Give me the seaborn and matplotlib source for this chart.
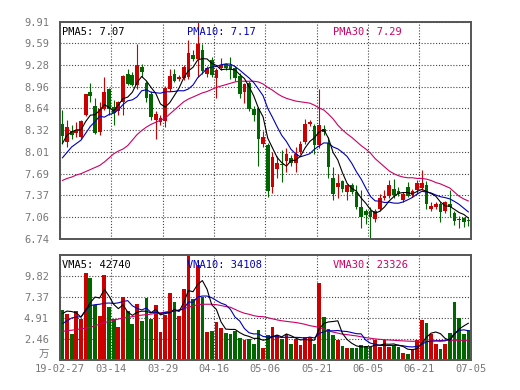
import numpy as np
import pandas as pd
import seaborn as sns
import matplotlib
matplotlib.use('Agg')
import matplotlib.pyplot as plt

# Daily K-line data, 88 trading days (volume in 万)
opens = [8.42, 8.15, 8.32, 8.29, 8.23, 8.55, 8.88, 8.68, 8.30, 8.64,
         8.92, 8.67, 8.60, 8.73, 9.14, 9.13, 8.98, 9.25, 9.01, 8.86,
         8.48, 8.45, 8.46, 8.93, 9.14, 9.07, 9.08, 9.10, 9.42, 9.37,
         9.50, 9.14, 9.35, 9.08, 9.24, 9.29, 9.28, 9.23, 9.12, 8.88,
         9.01, 8.64, 8.64, 8.12, 8.11, 7.49, 7.76, 7.83, 7.87, 7.92,
         7.84, 8.01, 8.15, 8.41, 8.39, 8.11, 8.34, 8.14, 7.63, 7.50,
         7.58, 7.42, 7.52, 7.42, 7.20, 7.14, 7.15, 7.03, 7.18, 7.33,
         7.36, 7.47, 7.44, 7.31, 7.50, 7.38, 7.45, 7.48, 7.52, 7.18,
         7.21, 7.25, 7.15, 7.24, 7.12, 7.03, 7.04, 7.02]
highs = [8.62, 8.47, 8.40, 8.44, 8.48, 8.86, 9.01, 8.79, 8.73, 9.10,
         8.94, 8.76, 8.75, 9.13, 9.22, 9.17, 9.59, 9.29, 9.05, 8.90,
         8.60, 8.54, 8.97, 9.22, 9.22, 9.13, 9.28, 9.64, 9.50, 9.91,
         9.58, 9.26, 9.40, 9.24, 9.38, 9.31, 9.40, 9.26, 9.16, 9.02,
         9.04, 8.68, 8.66, 8.32, 8.14, 8.00, 7.95, 8.04, 8.06, 7.96,
         8.08, 8.17, 8.49, 8.47, 8.42, 8.93, 8.40, 8.22, 7.79, 7.69,
         7.60, 7.54, 7.56, 7.52, 7.45, 7.18, 7.20, 7.17, 7.40, 7.45,
         7.60, 7.61, 7.50, 7.42, 7.57, 7.47, 7.59, 7.75, 7.58, 7.28,
         7.27, 7.28, 7.29, 7.45, 7.15, 7.07, 7.06, 7.04]
lows = [8.13, 8.08, 8.20, 8.22, 8.20, 8.53, 8.74, 8.27, 8.26, 8.62,
        8.55, 8.40, 8.54, 8.55, 8.98, 8.97, 8.93, 9.10, 8.74, 8.48,
        8.19, 8.40, 8.37, 8.90, 9.03, 9.04, 9.06, 9.07, 9.33, 9.10,
        9.15, 9.10, 9.10, 8.79, 9.20, 9.20, 9.07, 9.05, 8.80, 8.72,
        8.60, 8.46, 7.80, 8.08, 7.35, 7.41, 7.62, 7.57, 7.72, 7.80,
        7.71, 7.98, 8.12, 8.38, 7.97, 8.06, 8.25, 7.62, 7.30, 7.33,
        7.42, 7.30, 7.40, 7.18, 6.89, 6.95, 6.74, 6.99, 7.15, 7.30,
        7.34, 7.34, 7.36, 7.28, 7.35, 7.35, 7.40, 7.45, 7.18, 7.15,
        7.18, 6.98, 7.12, 7.06, 6.94, 6.90, 6.91, 6.93]
closes = [8.24, 8.37, 8.25, 8.33, 8.46, 8.85, 8.83, 8.29, 8.64, 8.89,
          8.63, 8.57, 8.73, 9.11, 9.00, 8.99, 9.27, 9.18, 8.79, 8.52,
          8.56, 8.50, 8.94, 9.11, 9.05, 9.10, 9.25, 9.45, 9.37, 9.59,
          9.19, 9.23, 9.13, 9.21, 9.28, 9.23, 9.22, 9.09, 8.86, 9.00,
          8.63, 8.55, 8.20, 8.22, 7.44, 7.93, 7.85, 7.81, 7.97, 7.84,
          7.97, 8.13, 8.42, 8.44, 8.11, 8.40, 8.30, 7.79, 7.40, 7.56,
          7.47, 7.52, 7.42, 7.20, 7.06, 7.09, 7.06, 7.15, 7.34, 7.37,
          7.53, 7.38, 7.40, 7.39, 7.37, 7.44, 7.55, 7.55, 7.24, 7.22,
          7.24, 7.13, 7.27, 7.20, 7.00, 7.01, 6.99, 7.00]
volumes = [5.92, 5.46, 3.12, 5.77, 4.87, 10.25, 9.66, 6.43, 5.18, 10.00,
           6.23, 4.87, 3.90, 7.40, 5.81, 4.29, 6.62, 4.60, 7.33, 4.87,
           6.43, 3.31, 5.34, 7.87, 6.82, 5.18, 8.38, 12.50, 7.21, 11.10,
           7.40, 3.31, 3.43, 4.48, 3.78, 3.23, 3.12, 3.43, 2.61, 2.34,
           2.45, 1.95, 3.51, 1.44, 3.00, 3.90, 2.92, 2.45, 3.12, 1.95,
           2.53, 1.83, 2.73, 2.73, 1.95, 9.04, 5.07, 3.62, 3.00, 2.34,
           1.68, 1.48, 1.44, 1.48, 1.75, 1.68, 1.56, 2.34, 1.56, 2.34,
           1.56, 1.75, 1.56, 0.86, 0.74, 1.29, 2.34, 4.72, 4.40, 3.12,
           1.95, 1.36, 1.95, 3.23, 6.82, 4.95, 3.12, 3.59]

# moving averages at the start of the window (history before the window)
ma5_head = [8.13, 8.25, 8.30, 8.33]
ma10_head = [7.92, 8.00, 8.08, 8.13, 8.18, 8.28, 8.38, 8.45, 8.53]
ma30 = [7.59, 7.62, 7.64, 7.67, 7.69, 7.72, 7.75, 7.78, 7.81, 7.86,
        7.92, 7.98, 8.02, 8.05, 8.10, 8.18, 8.26, 8.32, 8.37, 8.41,
        8.44, 8.47, 8.50, 8.56, 8.62, 8.68, 8.74, 8.78, 8.81, 8.84,
        8.87, 8.89, 8.92, 8.95, 8.97, 8.99, 9.01, 9.03, 9.04, 9.04,
        9.04, 9.04, 9.03, 9.00, 8.95, 8.91, 8.86, 8.82, 8.79, 8.77,
        8.75, 8.74, 8.73, 8.72, 8.69, 8.65, 8.62, 8.56, 8.49, 8.40,
        8.33, 8.27, 8.22, 8.16, 8.10, 8.05, 7.99, 7.91, 7.85, 7.79,
        7.73, 7.69, 7.66, 7.64, 7.63, 7.63, 7.62, 7.62, 7.61, 7.59,
        7.56, 7.54, 7.51, 7.48, 7.42, 7.36, 7.32, 7.29]
vma5_head = [5.46, 5.75, 5.70, 5.55]
vma10_head = [4.29, 4.60, 4.95, 5.05, 5.10, 5.80, 6.40, 6.50, 6.55]
vma30 = [3.39, 3.45, 3.52, 3.60, 3.67, 3.75, 3.85, 4.05, 4.22, 4.40,
         4.55, 4.68, 4.82, 4.93, 5.02, 5.10, 5.22, 5.28, 5.34, 5.40,
         5.50, 5.55, 5.62, 5.70, 5.77, 5.90, 6.05, 6.20, 6.35, 6.50,
         6.55, 6.55, 6.55, 6.50, 6.40, 6.28, 6.20, 5.95, 5.70, 5.50,
         5.38, 5.22, 5.12, 5.10, 4.98, 4.85, 4.72, 4.62, 4.55, 4.48,
         4.42, 4.32, 4.20, 4.05, 3.95, 3.85, 3.65, 3.42, 3.30, 3.18,
         3.05, 3.00, 2.92, 2.85, 2.75, 2.65, 2.58, 2.50, 2.45, 2.40,
         2.37, 2.34, 2.30, 2.27, 2.24, 2.22, 2.22, 2.22, 2.22, 2.24,
         2.28, 2.31, 2.34, 2.34, 2.34, 2.34, 2.34, 2.33]

date_labels = ['19-02-27', '03-14', '03-29', '04-16', '05-06',
               '05-21', '06-05', '06-21', '07-05']
price_labels = ['6.74', '7.06', '7.37', '7.69', '8.01', '8.32',
                '8.64', '8.96', '9.28', '9.59', '9.91']
vol_labels = ['万', '2.46', '4.91', '7.37', '9.82']

UP = '#cc0000'
DOWN = '#006600'
C5, C10, C30 = 'black', '#0000bb', '#cc0066'

sns.set_style('white')
plt.rcParams['font.family'] = ['DejaVu Sans Mono', 'Noto Sans CJK SC']

df = pd.DataFrame({'open': opens, 'high': highs, 'low': lows,
                   'close': closes, 'vol': volumes})
df['x'] = np.arange(len(df)) + 0.5
df['ma5'] = df['close'].rolling(5).mean()
df.loc[:3, 'ma5'] = ma5_head
df['ma10'] = df['close'].rolling(10).mean()
df.loc[:8, 'ma10'] = ma10_head
df['ma30'] = ma30
df['vma5'] = df['vol'].rolling(5).mean()
df.loc[:3, 'vma5'] = vma5_head
df['vma10'] = df['vol'].rolling(10).mean()
df.loc[:8, 'vma10'] = vma10_head
df['vma30'] = vma30
colors = np.where(df['close'] >= df['open'], UP, DOWN)

fig = plt.figure(figsize=(5.2, 3.9), dpi=100)
ax1 = fig.add_axes([0.1154, 0.388, 0.790, 0.5564])
ax2 = fig.add_axes([0.1154, 0.0762, 0.790, 0.2692])

# candles
body_lo = df[['open', 'close']].min(axis=1)
body_h = (df['close'] - df['open']).abs().clip(lower=0.012)
ax1.vlines(df['x'], df['low'], df['high'], colors=colors, linewidth=0.8, zorder=2)
ax1.bar(df['x'], body_h, bottom=body_lo, width=0.8, color=colors, linewidth=0, zorder=3)
for col, c in [('ma30', C30), ('ma10', C10), ('ma5', C5)]:
    sns.lineplot(data=df, x='x', y=col, ax=ax1, color=c, linewidth=0.8, zorder=4)

# volume
ax2.bar(df['x'], df['vol'], width=0.8, color=colors, linewidth=0, zorder=3)
for col, c in [('vma30', C30), ('vma10', C10), ('vma5', C5)]:
    sns.lineplot(data=df, x='x', y=col, ax=ax2, color=c, linewidth=0.8, zorder=4)

xt = np.arange(0, 89, 11)
ax1.set_xlim(0, 88)
ax1.set_ylim(6.74, 9.91)
ax1.set_yticks(np.linspace(6.74, 9.91, 11))
ax1.set_yticklabels(price_labels)
ax1.set_xticks(xt)
ax1.set_xticklabels([])

ax2.set_xlim(0, 88)
ax2.set_ylim(0, 2.455 * 5)
ax2.set_yticks(np.arange(5) * 2.455)
ax2.set_yticklabels(vol_labels)
ax2.get_yticklabels()[0].set_va('bottom')
ax2.set_xticks(xt)
ax2.set_xticklabels(date_labels)

for ax in (ax1, ax2):
    ax.set_xlabel('')
    ax.set_ylabel('')
    ax.grid(True, color='#444444', linestyle=(0, (1, 1.6)), linewidth=0.8, zorder=0)
    ax.set_axisbelow(True)
    ax.tick_params(length=0, labelsize=7.5, labelcolor='#777777')
    ax.tick_params(axis='y', pad=8)
    ax.tick_params(axis='x', pad=3)
    for s in ax.spines.values():
        s.set_color('#555555')
        s.set_linewidth(1.4)
        s.set_zorder(5)

# legend texts
kw = dict(fontsize=7.5, va='center', zorder=6)
ax1.text(0.006, 0.953, 'PMA5: 7.07', color=C5, transform=ax1.transAxes, **kw)
ax1.text(0.309, 0.953, 'PMA10: 7.17', color=C10, transform=ax1.transAxes, **kw)
ax1.text(0.664, 0.953, 'PMA30: 7.29', color=C30, transform=ax1.transAxes, **kw)
ax2.text(0.006, 0.905, 'VMA5: 42740', color=C5, transform=ax2.transAxes, **kw)
ax2.text(0.309, 0.905, 'VMA10: 34108', color=C10, transform=ax2.transAxes, **kw)
ax2.text(0.664, 0.905, 'VMA30: 23326', color=C30, transform=ax2.transAxes, **kw)

fig.savefig('out.png', dpi=100)
